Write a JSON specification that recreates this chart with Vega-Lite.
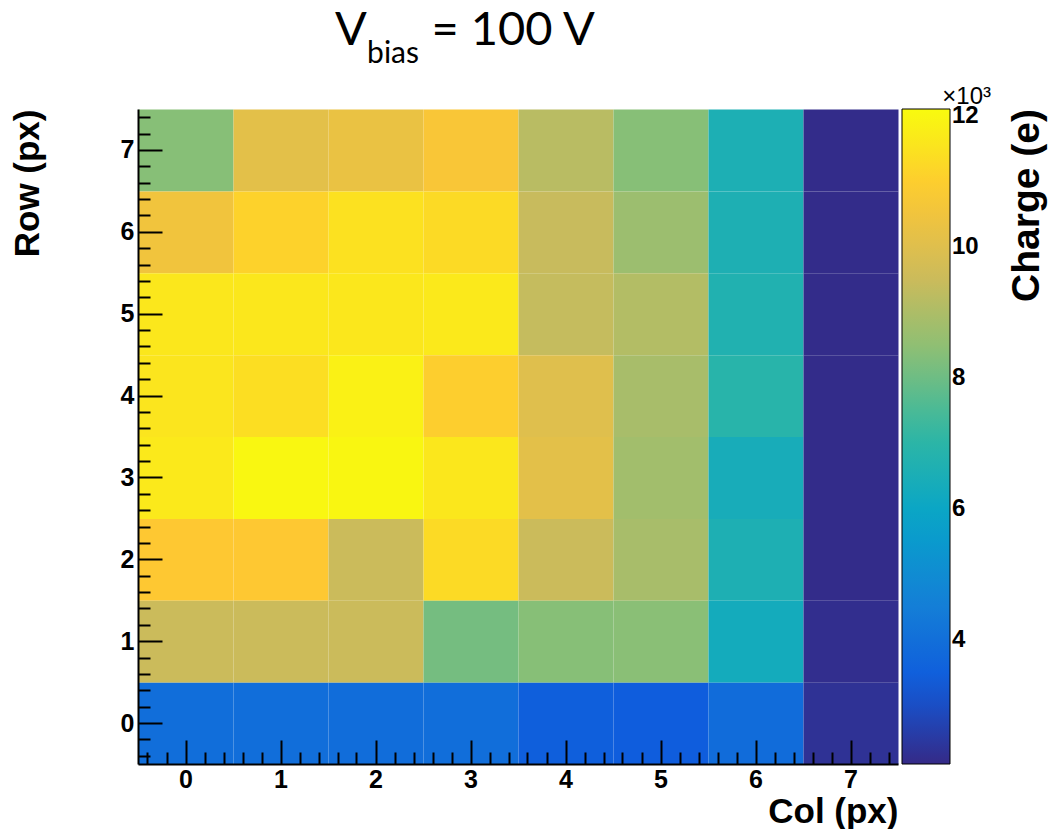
{
  "$schema": "https://vega.github.io/schema/vega-lite/v6.json",
  "background": "white",
  "padding": {"left": 10, "top": 7, "right": 0, "bottom": 0},
  "config": {"view": {"stroke": null}, "font": "Liberation Sans"},
  "title": {"text": "V\u2003\u2002\u2009= 100 V", "font": "Lato", "fontSize": 47, "fontWeight": "normal", "anchor": "start", "frame": "bounds", "dx": 325, "offset": -16, "color": "black"},
  "resolve": {"scale": {"color": "independent"}, "legend": {"color": "independent"}},
  "vconcat": [
    {
      "title": {"text": "bias", "font": "Lato", "fontSize": 30, "fontWeight": "normal", "anchor": "start", "frame": "bounds", "dx": 357, "offset": 16, "color": "black"},
      "resolve": {"scale": {"color": "independent"}, "legend": {"color": "independent"}},
      "vconcat": [
        {
          "title": {"text": "×10³", "font": "Liberation Sans", "fontSize": 24, "fontWeight": "normal", "anchor": "end", "frame": "group", "dx": 93, "offset": -4, "color": "black"},
          "width": 760,
          "height": 655,
          "data": {"values": [
            {"col": 0, "row": 7, "charge": 8350}, {"col": 1, "row": 7, "charge": 10100}, {"col": 2, "row": 7, "charge": 10300}, {"col": 3, "row": 7, "charge": 10700}, {"col": 4, "row": 7, "charge": 9200}, {"col": 5, "row": 7, "charge": 8350}, {"col": 6, "row": 7, "charge": 6570}, {"col": 7, "row": 7, "charge": 2150},
            {"col": 0, "row": 6, "charge": 10500}, {"col": 1, "row": 6, "charge": 11100}, {"col": 2, "row": 6, "charge": 11460}, {"col": 3, "row": 6, "charge": 11300}, {"col": 4, "row": 6, "charge": 9450}, {"col": 5, "row": 6, "charge": 8700}, {"col": 6, "row": 6, "charge": 6600}, {"col": 7, "row": 6, "charge": 2150},
            {"col": 0, "row": 5, "charge": 11600}, {"col": 1, "row": 5, "charge": 11600}, {"col": 2, "row": 5, "charge": 11600}, {"col": 3, "row": 5, "charge": 11650}, {"col": 4, "row": 5, "charge": 9400}, {"col": 5, "row": 5, "charge": 9100}, {"col": 6, "row": 5, "charge": 6700}, {"col": 7, "row": 5, "charge": 2150},
            {"col": 0, "row": 4, "charge": 11550}, {"col": 1, "row": 4, "charge": 11400}, {"col": 2, "row": 4, "charge": 11850}, {"col": 3, "row": 4, "charge": 11000}, {"col": 4, "row": 4, "charge": 10000}, {"col": 5, "row": 4, "charge": 8900}, {"col": 6, "row": 4, "charge": 6900}, {"col": 7, "row": 4, "charge": 2150},
            {"col": 0, "row": 3, "charge": 11650}, {"col": 1, "row": 3, "charge": 12000}, {"col": 2, "row": 3, "charge": 11980}, {"col": 3, "row": 3, "charge": 11600}, {"col": 4, "row": 3, "charge": 10100}, {"col": 5, "row": 3, "charge": 8800}, {"col": 6, "row": 3, "charge": 6400}, {"col": 7, "row": 3, "charge": 2150},
            {"col": 0, "row": 2, "charge": 10850}, {"col": 1, "row": 2, "charge": 10850}, {"col": 2, "row": 2, "charge": 9500}, {"col": 3, "row": 2, "charge": 11300}, {"col": 4, "row": 2, "charge": 9500}, {"col": 5, "row": 2, "charge": 8900}, {"col": 6, "row": 2, "charge": 6600}, {"col": 7, "row": 2, "charge": 2150},
            {"col": 0, "row": 1, "charge": 9500}, {"col": 1, "row": 1, "charge": 9500}, {"col": 2, "row": 1, "charge": 9500}, {"col": 3, "row": 1, "charge": 8100}, {"col": 4, "row": 1, "charge": 8350}, {"col": 5, "row": 1, "charge": 8400}, {"col": 6, "row": 1, "charge": 6300}, {"col": 7, "row": 1, "charge": 2200},
            {"col": 0, "row": 0, "charge": 3960}, {"col": 1, "row": 0, "charge": 3960}, {"col": 2, "row": 0, "charge": 3940}, {"col": 3, "row": 0, "charge": 3950}, {"col": 4, "row": 0, "charge": 3450}, {"col": 5, "row": 0, "charge": 3400}, {"col": 6, "row": 0, "charge": 3900}, {"col": 7, "row": 0, "charge": 2300}
          ]},
          "mark": {"type": "rect", "strokeWidth": 0, "binSpacing": 0},
          "encoding": {
            "x": {
              "field": "col", "type": "quantitative",
              "bin": {"step": 1, "extent": [-0.5, 7.5], "nice": false},
              "scale": {"domain": [-0.5, 7.5], "nice": false, "zero": false},
              "axis": {
                "title": "Col (px)", "titleAnchor": "end", "titleFontSize": 35, "titleFontWeight": "bold", "titleColor": "black", "titlePadding": -10,
                "values": [-0.4, -0.2, 0, 0.2, 0.4, 0.6, 0.8, 1, 1.2, 1.4, 1.6, 1.8, 2, 2.2, 2.4, 2.6, 2.8, 3, 3.2, 3.4, 3.6, 3.8, 4, 4.2, 4.4, 4.6, 4.8, 5, 5.2, 5.4, 5.6, 5.8, 6, 6.2, 6.4, 6.6, 6.8, 7, 7.2, 7.4],
                "labelExpr": "abs(datum.value - round(datum.value)) < 0.01 ? format(round(datum.value), 'd') : ''",
                "labelOverlap": false, "labelFontSize": 25, "labelFontWeight": "bold", "labelColor": "black", "labelPadding": 27, "labelFlush": false,
                "tickSize": {"condition": {"test": "abs(datum.value - round(datum.value)) < 0.01", "value": -24}, "value": -12},
                "tickColor": "black", "tickWidth": 2, "domainColor": "black", "domainWidth": 2, "grid": false
              }
            },
            "y": {
              "field": "row", "type": "quantitative",
              "bin": {"step": 1, "extent": [-0.5, 7.5], "nice": false},
              "scale": {"domain": [-0.5, 7.5], "nice": false, "zero": false},
              "axis": {
                "title": "Row (px)", "titleAnchor": "end", "titleFontSize": 35, "titleFontWeight": "bold", "titleColor": "black", "titlePadding": 75,
                "values": [-0.4, -0.2, 0, 0.2, 0.4, 0.6, 0.8, 1, 1.2, 1.4, 1.6, 1.8, 2, 2.2, 2.4, 2.6, 2.8, 3, 3.2, 3.4, 3.6, 3.8, 4, 4.2, 4.4, 4.6, 4.8, 5, 5.2, 5.4, 5.6, 5.8, 6, 6.2, 6.4, 6.6, 6.8, 7, 7.2, 7.4],
                "labelExpr": "abs(datum.value - round(datum.value)) < 0.01 ? format(round(datum.value), 'd') : ''",
                "labelOverlap": false, "labelFontSize": 25, "labelFontWeight": "bold", "labelColor": "black", "labelPadding": 28, "labelFlush": false,
                "tickSize": {"condition": {"test": "abs(datum.value - round(datum.value)) < 0.01", "value": -24}, "value": -12},
                "tickColor": "black", "tickWidth": 2, "domainColor": "black", "domainWidth": 2, "grid": false
              }
            },
            "color": {
              "field": "charge", "type": "quantitative",
              "scale": {
                "domain": [2100, 3350, 4600, 5850, 7100, 8350, 9600, 10850, 12100],
                "range": ["#352a87", "#0f5cdd", "#1481d6", "#06a4ca", "#2eb7a4", "#87bf77", "#d1bb59", "#fec832", "#f9fb0e"],
                "interpolate": "rgb"
              },
              "legend": {
                "type": "gradient",
                "orient": "none", "legendX": 764, "legendY": 0,
                "title": "Charge (e)", "titleOrient": "right", "titleAnchor": "end", "titleAlign": "right", "titleLimit": 500, "titleFontSize": 39, "titleFontWeight": "bold", "titleColor": "black", "titlePadding": 68,
                "encode": {"title": {"update": {"angle": {"value": 270}}}},
                "direction": "vertical", "gradientLength": 655, "gradientThickness": 48,
                "gradientStrokeColor": "black", "gradientStrokeWidth": 1,
                "values": [4000, 6000, 8000, 10000, 12000],
                "labelExpr": "format(datum.value / 1000, 'd')",
                "labelFontSize": 24, "labelFontWeight": "bold", "labelColor": "black", "labelOffset": 2,
                "padding": 0
              }
            }
          }
        }
      ]
    }
  ]
}
